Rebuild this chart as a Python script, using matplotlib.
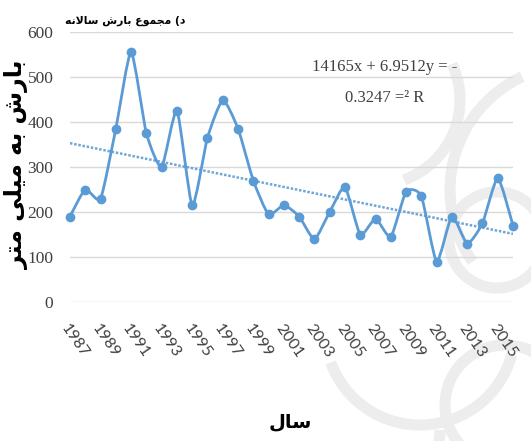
import numpy as np
import matplotlib
matplotlib.use("Agg")
import matplotlib.pyplot as plt
from matplotlib.path import Path
from matplotlib.patches import PathPatch, Arc

# ---------------- data ----------------
years = list(range(1987, 2017))
precip = [190, 250, 230, 385, 555, 375, 300, 425, 215, 365,
          448, 385, 270, 195, 215, 190, 140, 200, 255, 150,
          185, 145, 245, 235, 90, 190, 130, 175, 275, 170]
tick_years = list(range(1987, 2016, 2))
y_ticks = [0, 100, 200, 300, 400, 500, 600]
trend_slope = -6.9512
trend_intercept = 14165
eq_line1 = "14165x + 6.9512y = -"
eq_line2 = "0.3247 =\u00b2 R"

# Persian text (presentation forms, visual order)
title_txt = ("\uFEEA\uFEE7\uFEFB\uFE8E\uFEB3 "      # سالانه
             "\uFEB5\uFEAD\uFE8E\uFE91 "            # بارش
             "\uFEC9\uFEEE\uFEE4\uFEA0\uFEE3 "      # مجموع
             "(\uFEA9")                              # د)
ylabel_txt = ("\uFEAE\uFE98\uFEE3 "                  # متر
              "\uFBFD\uFEE0\uFBFF\uFEE3 "            # میلی
              "\uFEEA\uFE91 "                        # به
              "\uFEB5\uFEAD\uFE8E\uFE91")            # بارش
xlabel_txt = "\uFEDD\uFE8E\uFEB3"                    # سال

line_color = "#5B9BD5"

fig = plt.figure(figsize=(5.31, 4.41), dpi=100)

# faint background watermark (decorative arcs) in a pixel-space background axes
bg = fig.add_axes([0, 0, 1, 1], zorder=-1)
bg.set_xlim(0, 531)
bg.set_ylim(441, 0)
bg.axis("off")
for (cx, cy, d, t1, t2) in [(497, 240, 96, 0, 360), (505, 405, 120, 0, 360),
                            (420, 330, 190, 15, 160), (575, 190, 250, 145, 245),
                            (375, 100, 170, -25, 70), (360, 430, 160, 0, 110)]:
    bg.add_patch(Arc((cx, cy), d, d, theta1=t1, theta2=t2,
                     color="#ededed", lw=8))

ax = fig.add_axes([70/531, 1-302/441, (513-70)/531, (302-32)/441])
ax.patch.set_alpha(0)

x = np.array(years, dtype=float)
y = np.array(precip, dtype=float)

# lightly smoothed curve through the data
verts = [(x[0], y[0])]
codes = [Path.MOVETO]
n = len(x)
k = 1/10.0
for i in range(n-1):
    p0 = np.array([x[max(i-1, 0)], y[max(i-1, 0)]])
    p1 = np.array([x[i], y[i]])
    p2 = np.array([x[i+1], y[i+1]])
    p3 = np.array([x[min(i+2, n-1)], y[min(i+2, n-1)]])
    c1 = p1 + (p2 - p0) * k
    c2 = p2 - (p3 - p1) * k
    verts += [tuple(c1), tuple(c2), tuple(p2)]
    codes += [Path.CURVE4]*3
ax.add_patch(PathPatch(Path(verts, codes), facecolor="none",
                       edgecolor=line_color, lw=2.0, zorder=3, clip_on=False))
ax.plot(x, y, "o", color=line_color, ms=6, zorder=4, clip_on=False)

# trend line
tx = np.array([years[0], years[-1]], dtype=float)
ax.plot(tx, trend_slope*tx + trend_intercept, linestyle=(0, (1, 0.7)),
        color="#6fa6d8", lw=1.8, zorder=2)

ax.set_xlim(years[0], years[-1])
ax.set_ylim(0, 600)
ax.set_yticks(y_ticks)
ax.set_yticklabels([str(v) for v in y_ticks], fontfamily="Liberation Serif",
                   fontsize=12.5, color="#404040")
ax.set_xticks(tick_years)
ax.set_xticklabels([str(v) for v in tick_years], rotation=-55, ha="left",
                   va="top", rotation_mode="anchor", fontfamily="Lato",
                   fontsize=11.5, color="#404040")
ax.tick_params(axis="both", length=0)
ax.tick_params(axis="y", pad=12)
ax.tick_params(axis="x", pad=14)
ax.grid(axis="y", color="#d9d9d9", lw=1)
ax.set_axisbelow(True)
for s in ax.spines.values():
    s.set_visible(False)

fig.text(125/531, 1-21/441, title_txt, fontfamily="DejaVu Sans",
         fontweight="bold", fontsize=7.8, ha="center", va="center")
fig.text(17/531, 1-165/441, ylabel_txt, fontfamily="DejaVu Sans",
         fontweight="bold", fontsize=17, rotation=90, ha="center", va="center")
fig.text(290/531, 1-422/441, xlabel_txt, fontfamily="DejaVu Sans",
         fontweight="bold", fontsize=14, ha="center", va="center")
fig.text(385/531, 1-67/441, eq_line1, fontfamily="Liberation Serif",
         fontsize=12, ha="center", va="center", color="#404040")
fig.text(385/531, 1-98/441, eq_line2, fontfamily="Liberation Serif",
         fontsize=12, ha="center", va="center", color="#404040")

fig.savefig("out.png", dpi=100)
